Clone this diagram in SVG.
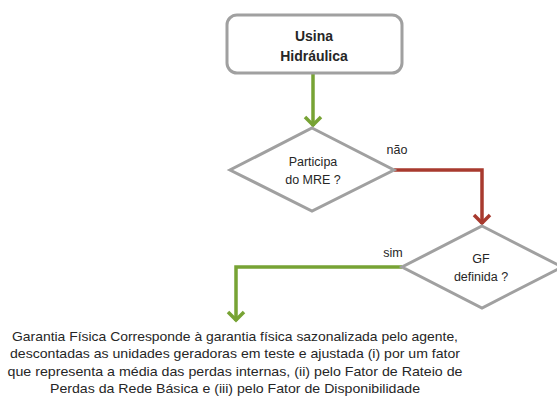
<svg xmlns="http://www.w3.org/2000/svg" width="557" height="401" viewBox="0 0 557 401">
<defs>
<style>
.node{fill:#fff;stroke:#a0a0a0;stroke-width:3}
.t{font-family:"Liberation Sans",Arial,sans-serif;fill:#262626;text-anchor:middle}
.b{font-weight:bold;font-size:14px}
.d{font-size:12.5px}
.p{font-size:13px}
.g{fill:none;stroke:#77a334;stroke-width:3.5}
.r{fill:none;stroke:#a83a2e;stroke-width:3.5}
</style>
<marker id="ag" markerUnits="userSpaceOnUse" markerWidth="22" markerHeight="22" refX="12" refY="10" orient="auto">
<path d="M3,2 L11,10 L3,18" fill="none" stroke="#77a334" stroke-width="3.5"/>
</marker>
<marker id="ar" markerUnits="userSpaceOnUse" markerWidth="22" markerHeight="22" refX="12" refY="10" orient="auto">
<path d="M3,2 L11,10 L3,18" fill="none" stroke="#a83a2e" stroke-width="3.5"/>
</marker>
</defs>
<rect width="557" height="401" fill="#fff"/>
<g id="connectors">
<path class="g" d="M313,74 L313,126" marker-end="url(#ag)"/>
<path class="r" d="M394,170 L482,170 L482,224" marker-end="url(#ar)"/>
<path class="g" d="M402,267 L236,267 L236,321" marker-end="url(#ag)"/>
<text class="t d" x="397" y="154">não</text>
<text class="t d" x="393" y="257">sim</text>
</g>
<g id="usina">
<rect class="node" x="227" y="15" width="175" height="58" rx="10"/>
<text class="t b" x="314" y="41">Usina</text>
<text class="t b" x="314" y="61">Hidráulica</text>
</g>
<g id="participa">
<polygon class="node" points="312,128 394,170 312,211 230,170"/>
<text class="t d" x="313" y="166">Participa</text>
<text class="t d" x="313" y="184">do MRE ?</text>
</g>
<g id="gf">
<polygon class="node" points="482,226 562,267 482,308 402,267"/>
<text class="t d" x="481" y="263">GF</text>
<text class="t d" x="481" y="281">definida ?</text>
</g>
<g id="garantia">
<text class="t p" x="235" y="341" textLength="446" lengthAdjust="spacingAndGlyphs">Garantia Física Corresponde à garantia física sazonalizada pelo agente,</text>
<text class="t p" x="235" y="358" textLength="450" lengthAdjust="spacingAndGlyphs">descontadas as unidades geradoras em teste e ajustada (i) por um fator</text>
<text class="t p" x="235" y="376" textLength="455" lengthAdjust="spacingAndGlyphs">que representa a média das perdas internas, (ii) pelo Fator de Rateio de</text>
<text class="t p" x="235" y="393" textLength="370" lengthAdjust="spacingAndGlyphs">Perdas da Rede Básica e (iii) pelo Fator de Disponibilidade</text>
</g>
</svg>
